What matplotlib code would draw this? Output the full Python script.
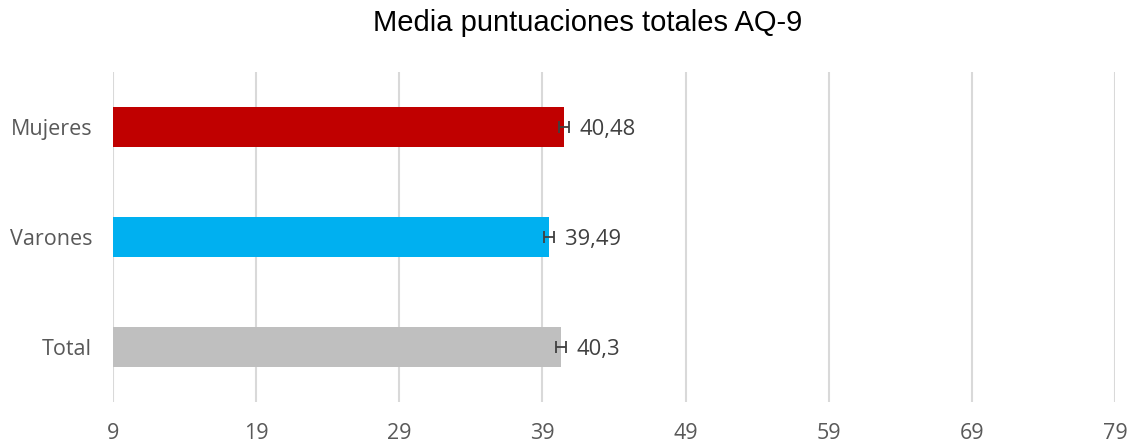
import matplotlib.pyplot as plt

# Mean total AQ-9 scores by group
groups = ['Mujeres', 'Varones', 'Total']
means = [40.48, 39.49, 40.3]
errors = [0.35, 0.35, 0.35]
labels = ['40,48', '39,49', '40,3']
colors = ['#C00000', '#00B0F0', '#BFBFBF']

fig = plt.figure(figsize=(11.35, 4.46), dpi=100)
ax = fig.add_axes([113 / 1135, 44 / 446, 1002 / 1135, 330 / 446])

ypos = range(len(groups))
base = 9
ax.barh(ypos, [m - base for m in means], left=base, height=0.36, color=colors, zorder=2)
ax.errorbar(means, ypos, xerr=errors, fmt='none', ecolor='#404040',
            elinewidth=1.3, capsize=4, capthick=1.3, zorder=3)

for y, m, e, lab in zip(ypos, means, errors, labels):
    ax.text(m + e + 0.75, y + 0.02, lab, va='center', ha='left', fontsize=15.8,
            color='#404040', family='Open Sans')

ax.set_xlim(9, 79)
ax.set_xticks(range(9, 80, 10))
ax.set_ylim(2.5, -0.5)
ax.set_yticks(list(ypos))
ax.set_yticklabels(groups)
ax.grid(axis='x', color='#D9D9D9', linewidth=1.5, zorder=0)
ax.set_axisbelow(True)
for s in ax.spines.values():
    s.set_visible(False)
ax.tick_params(length=0, labelsize=15.5, labelcolor='#595959')
ax.tick_params(axis='y', pad=15)
ax.tick_params(axis='x', pad=15)
for t in ax.get_xticklabels() + ax.get_yticklabels():
    t.set_family('Open Sans')

fig.suptitle('Media puntuaciones totales AQ-9', x=0.518, y=0.98, fontsize=21,
             family='Liberation Sans', color='black')

fig.savefig('out.png', dpi=100)
